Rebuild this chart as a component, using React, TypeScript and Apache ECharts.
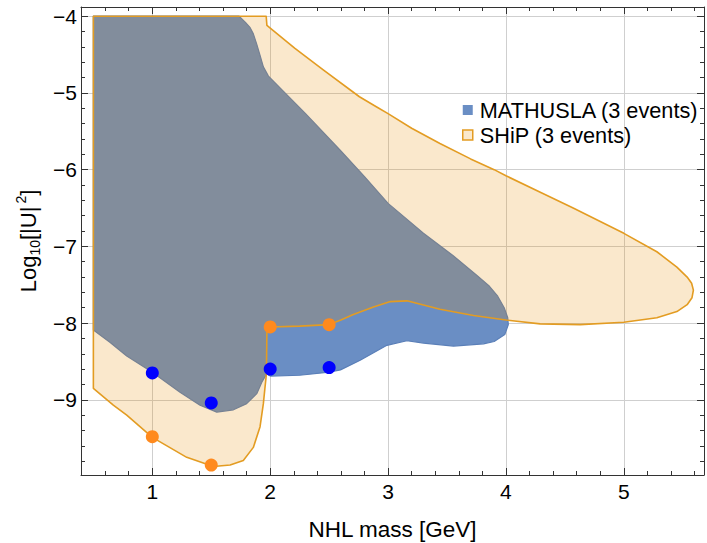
import React, { useEffect, useRef } from 'react';
import * as echarts from 'echarts';

const FONT = '"Liberation Sans", Arial, Helvetica, sans-serif';

// tick labels
const xTicks = [1, 2, 3, 4, 5];
const yTicks = [-9, -8, -7, -6, -5, -4];

// axis ranges
const xRange = [0.395, 5.68];
const yRange = [-9.98, -3.88];

// MATHUSLA (3 events) region outline
const mathX = [0.5, 1.736, 1.79, 1.83, 1.857, 1.885, 1.914, 1.942, 1.985, 2.3, 2.596, 2.8, 3.0, 3.3, 3.55, 3.754, 3.86, 3.93, 3.985, 4.015, 4.02, 3.99, 3.9, 3.81, 3.555, 3.3, 3.16, 2.99, 2.763, 2.596, 2.5, 2.25, 2.0, 1.971, 1.929, 1.886, 1.8, 1.688, 1.547, 1.405, 1.235, 1.0, 0.783, 0.64, 0.5];
const mathY = [-4.0, -4.0, -4.08, -4.15, -4.23, -4.36, -4.51, -4.66, -4.78, -5.27, -5.75, -6.09, -6.44, -6.83, -7.12, -7.38, -7.52, -7.65, -7.8, -7.93, -8.02, -8.15, -8.24, -8.27, -8.3, -8.26, -8.23, -8.29, -8.485, -8.61, -8.64, -8.68, -8.69, -8.66, -8.77, -8.92, -9.05, -9.13, -9.16, -9.07, -8.9, -8.64, -8.43, -8.25, -8.09];

// SHiP (3 events) region outline
const shipX = [0.5, 1.966, 1.972, 2.21, 2.45, 2.757, 2.9, 3.0, 3.2, 3.44, 3.7, 3.9, 4.0, 4.3, 4.57, 5.0, 5.28, 5.45, 5.537, 5.575, 5.59, 5.578, 5.537, 5.45, 5.28, 5.0, 4.63, 4.29, 4.0, 3.725, 3.44, 3.16, 3.02, 2.876, 2.7, 2.6, 2.5, 2.25, 2.0, 1.972, 1.968, 1.955, 1.942, 1.914, 1.857, 1.772, 1.66, 1.518, 1.292, 1.0, 0.783, 0.669, 0.5];
const shipY = [-4.0, -4.0, -4.12, -4.42, -4.7, -5.05, -5.18, -5.27, -5.46, -5.66, -5.86, -6.0, -6.08, -6.3, -6.5, -6.83, -7.07, -7.27, -7.4, -7.48, -7.57, -7.67, -7.76, -7.85, -7.93, -7.99, -8.02, -8.01, -7.96, -7.9, -7.82, -7.71, -7.72, -7.79, -7.89, -7.96, -8.02, -8.04, -8.05, -8.1, -8.66, -8.85, -9.05, -9.35, -9.62, -9.79, -9.85, -9.87, -9.75, -9.49, -9.2, -9.07, -8.85];

// benchmark points
const mathPtsX = [1, 1.5, 2, 2.5];
const mathPtsY = [-8.65, -9.04, -8.6, -8.58];
const shipPtsX = [1, 1.5, 2, 2.5];
const shipPtsY = [-9.48, -9.85, -8.05, -8.02];

const names = ['MATHUSLA (3 events)', 'SHiP (3 events)'];

const isTick = (v: number, ticks: number[]) =>
  Math.abs(v - Math.round(v)) < 1e-6 && ticks.includes(Math.round(v));
const fmt = (ticks: number[]) => (v: number) => {
  if (!isTick(v, ticks)) return '';
  const r = Math.round(v);
  return r < 0 ? '\u2212' + Math.abs(r) : String(r);
};

const polygonSeries = (name: string, xs: number[], ys: number[], fill: string, stroke: string, lw: number, z: number) => ({
  type: 'custom',
  name,
  z,
  clip: true,
  silent: true,
  data: [[xs[0], ys[0]]],
  encode: { x: 0, y: 1 },
  itemStyle: { color: fill },
  renderItem: (params: any, api: any) => ({
    type: 'polygon',
    shape: { points: xs.map((x, i) => api.coord([x, ys[i]])) },
    style: { fill, stroke, lineWidth: lw, lineJoin: 'round' },
  }),
});

const frameColor = '#333';

const mkX = (primary: boolean) => ({
  type: 'value',
  min: xRange[0],
  max: xRange[1],
  splitNumber: 5,
  minInterval: 1,
  maxInterval: 1,
  position: primary ? 'bottom' : 'top',
  axisLine: { show: true, onZero: false, lineStyle: { color: frameColor, width: 1 } },
  axisTick: { show: true, inside: true, length: 7, lineStyle: { color: frameColor } },
  minorTick: { show: true, splitNumber: 5, length: 4, lineStyle: { color: frameColor } },
  axisLabel: primary
    ? { show: true, formatter: fmt(xTicks), margin: 6, fontSize: 21, color: '#000', fontFamily: FONT }
    : { show: false },
  splitLine: { show: primary, lineStyle: { color: '#cfcfcf', width: 1 } },
  ...(primary
    ? {
        name: 'NHL mass [GeV]',
        nameLocation: 'middle',
        nameGap: 43,
        nameTextStyle: { fontSize: 22.5, color: '#000', fontFamily: FONT },
      }
    : {}),
});

const mkY = (primary: boolean) => ({
  type: 'value',
  min: yRange[0],
  max: yRange[1],
  splitNumber: 5,
  minInterval: 1,
  maxInterval: 1,
  position: primary ? 'left' : 'right',
  axisLine: { show: true, onZero: false, lineStyle: { color: frameColor, width: 1 } },
  axisTick: { show: true, inside: true, length: 7, lineStyle: { color: frameColor } },
  minorTick: { show: true, splitNumber: 5, length: 4, lineStyle: { color: frameColor } },
  axisLabel: primary
    ? { show: true, formatter: fmt(yTicks), margin: 4, fontSize: 21, color: '#000', fontFamily: FONT }
    : { show: false },
  splitLine: { show: primary, lineStyle: { color: '#cfcfcf', width: 1 } },
  ...(primary
    ? {
        name: '{a|Log}{b|10}{a|[|U|}{c|2}{a|]}',
        nameLocation: 'middle',
        nameRotate: 90,
        nameGap: 37,
        nameTextStyle: {
          color: '#000',
          fontFamily: FONT,
          fontSize: 22,
          rich: {
            a: { fontSize: 22, fontFamily: FONT, color: '#000', lineHeight: 28 },
            b: { fontSize: 14, fontFamily: FONT, color: '#000', lineHeight: 14, verticalAlign: 'bottom' },
            c: { fontSize: 14, fontFamily: FONT, color: '#000', lineHeight: 14, verticalAlign: 'top', padding: [0, 0, 0, 3] },
          },
        },
      }
    : {}),
});

export default function App() {
  const ref = useRef<HTMLDivElement>(null);
  useEffect(() => {
    if (!ref.current) return;
    const chart = echarts.init(ref.current, undefined, { renderer: 'svg' });
    chart.setOption({
      animation: false,
      backgroundColor: '#fff',
      grid: { left: 81, top: 7, right: 3, bottom: 68, containLabel: false, outerBoundsMode: 'none' },
      xAxis: [mkX(true), mkX(false)],
      yAxis: [mkY(true), mkY(false)],
      legend: {
        orient: 'vertical',
        left: 457,
        top: 94,
        itemWidth: 10,
        itemHeight: 10,
        itemGap: 3,
        icon: 'rect',
        selectedMode: false,
        textStyle: { fontSize: 21.7, color: '#000', fontFamily: FONT, lineHeight: 21, padding: [0, 0, 0, 2] },
        data: [
          { name: names[0], itemStyle: { color: '#6a8ec4', borderWidth: 0 } },
          { name: names[1], itemStyle: { color: '#fae8cc', borderColor: '#e39c22', borderWidth: 1.5 } },
        ],
      },
      series: [
        polygonSeries(names[0], mathX, mathY, '#6a8ec4', '#5a7fb8', 1.2, 2),
        polygonSeries(names[1], shipX, shipY, 'rgba(230,140,0,0.2)', '#e39c22', 1.6, 3),
        {
          type: 'scatter',
          name: 'mathPts',
          z: 10,
          silent: true,
          symbolSize: 13,
          itemStyle: { color: '#0000ff', opacity: 1 },
          data: mathPtsX.map((x, i) => [x, mathPtsY[i]]),
        },
        {
          type: 'scatter',
          name: 'shipPts',
          z: 10,
          silent: true,
          symbolSize: 13,
          itemStyle: { color: '#ff8a1e', opacity: 1 },
          data: shipPtsX.map((x, i) => [x, shipPtsY[i]]),
        },
      ],
    });
    return () => chart.dispose();
  }, []);
  return <div ref={ref} style={{ position: 'absolute', left: 0, top: 0, width: 707, height: 543 }} />;
}
